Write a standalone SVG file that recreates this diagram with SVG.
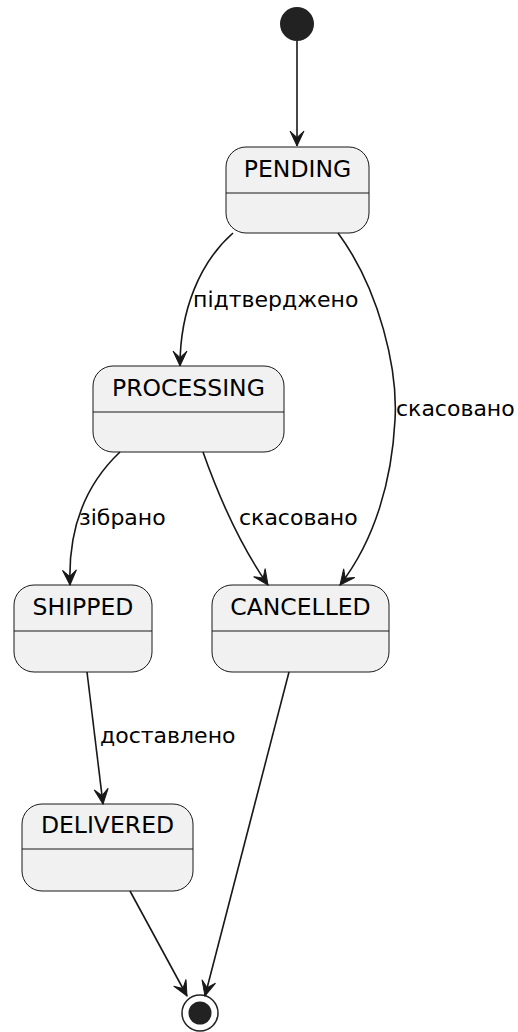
<svg xmlns="http://www.w3.org/2000/svg" width="518" height="1032" viewBox="0 0 518 1032">
<defs>
<style>
.st{fill:#F1F1F1;stroke:#181818;stroke-width:1}
.nm{font-family:"DejaVu Sans",sans-serif;font-size:23.5px;fill:#000;text-anchor:middle}
.lb{font-family:"DejaVu Sans",sans-serif;font-size:22px;fill:#000}
.ln{fill:none;stroke:#181818;stroke-width:1.6}
</style>
<marker id="ah" viewBox="-16 -8 17 16" refX="0" refY="0" markerWidth="17" markerHeight="16" markerUnits="userSpaceOnUse" orient="auto">
<path d="M0,0 L-15,-7 L-8.5,0 L-15,7 Z" fill="#181818" stroke="#181818" stroke-width="1"/>
</marker>
</defs>
<rect width="518" height="1032" fill="#fff"/>
<g id="start"><circle cx="297" cy="24" r="17" fill="#222"/></g>
<g id="PENDING"><rect class="st" x="226" y="147" width="143" height="86" rx="20"/><line class="st" x1="226" y1="193" x2="369" y2="193"/><text class="nm" x="297.5" y="177">PENDING</text></g>
<g id="PROCESSING"><rect class="st" x="93" y="366" width="191" height="86" rx="20"/><line class="st" x1="93" y1="412" x2="284" y2="412"/><text class="nm" x="188.5" y="396">PROCESSING</text></g>
<g id="SHIPPED"><rect class="st" x="14" y="585" width="138" height="87" rx="20"/><line class="st" x1="14" y1="631" x2="152" y2="631"/><text class="nm" x="83" y="615">SHIPPED</text></g>
<g id="CANCELLED"><rect class="st" x="212" y="585" width="177" height="87" rx="20"/><line class="st" x1="212" y1="631" x2="389" y2="631"/><text class="nm" x="300.5" y="615">CANCELLED</text></g>
<g id="DELIVERED"><rect class="st" x="22" y="804" width="171" height="87" rx="20"/><line class="st" x1="22" y1="849" x2="193" y2="849"/><text class="nm" x="107.5" y="833">DELIVERED</text></g>
<g id="end"><circle cx="200" cy="1013" r="18" fill="none" stroke="#222" stroke-width="1.5"/><circle cx="200" cy="1013" r="11.5" fill="#222"/></g>
<g id="connectors">
<path class="ln" marker-end="url(#ah)" d="M297,41 L297,146"/>
<path class="ln" marker-end="url(#ah)" d="M233,233 C200,262 180,310 180,366"/>
<path class="ln" marker-end="url(#ah)" d="M338,233 C380,290 398,370 395,420 C392,480 375,540 340,585"/>
<path class="ln" marker-end="url(#ah)" d="M120,452 C85,485 68,530 70,585"/>
<path class="ln" marker-end="url(#ah)" d="M203,452 C220,500 240,545 268,585"/>
<path class="ln" marker-end="url(#ah)" d="M87,672 L103,804"/>
<path class="ln" marker-end="url(#ah)" d="M130,891 L187,996"/>
<path class="ln" marker-end="url(#ah)" d="M289,672 L205,996"/>
<text class="lb" x="193" y="307">підтверджено</text>
<text class="lb" x="396" y="416">скасовано</text>
<text class="lb" x="79" y="525">зібрано</text>
<text class="lb" x="239" y="525">скасовано</text>
<text class="lb" x="100" y="743">доставлено</text>
</g>
</svg>
